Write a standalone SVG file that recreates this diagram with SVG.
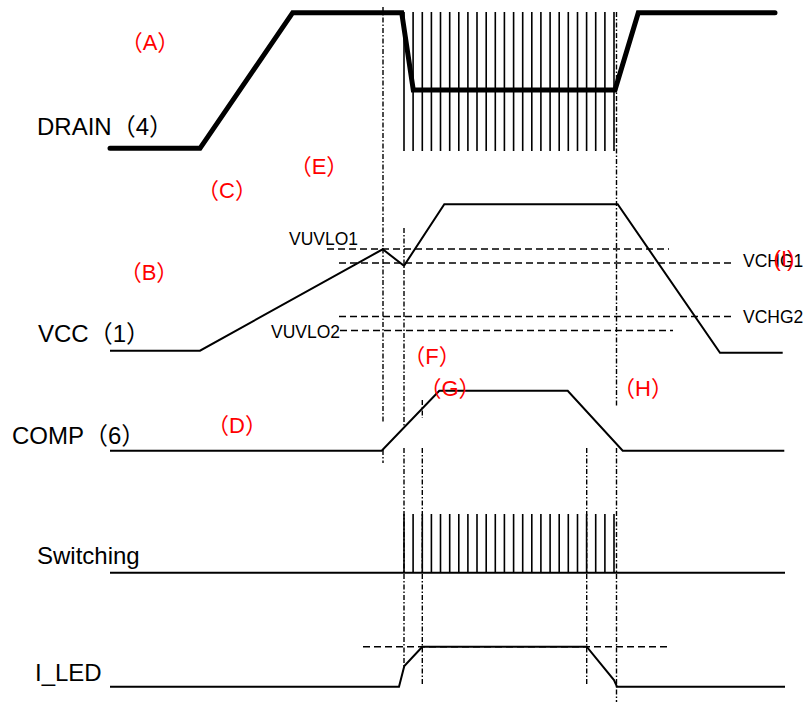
<svg xmlns="http://www.w3.org/2000/svg" width="803" height="704" viewBox="0 0 803 704">
<style>
.bg{fill:#fff}
.thick{fill:none;stroke:#000;stroke-width:5;stroke-linecap:round;stroke-linejoin:miter}
.wave{fill:none;stroke:#000;stroke-width:2}
.pulse{fill:none;stroke:#000;stroke-width:1.6}
.hd{fill:none;stroke:#000;stroke-width:1.6;stroke-dasharray:7 4}
.vd{fill:none;stroke:#000;stroke-width:1.4;stroke-dasharray:5 2 1.5 2}
.lbl{font-family:"Liberation Sans","Noto Sans CJK JP",sans-serif;font-size:24px;fill:#000}
.sm{font-family:"Liberation Sans","Noto Sans CJK JP",sans-serif;font-size:17.5px;fill:#000}
.red{font-family:"Liberation Sans","Noto Sans CJK JP",sans-serif;font-size:22px;fill:#ff0000;text-anchor:middle}
</style>
<rect class="bg" x="0" y="0" width="803" height="704"/>
<g id="connectors">
  <g id="vertical-guides">
    <path class="vd" d="M383 7V423M383 450V463"/>
    <path class="vd" d="M404 228V427M404 448V667"/>
    <path class="vd" d="M422.3 400V418M422.3 448V685"/>
    <path class="vd" d="M586.7 448V685"/>
    <path class="vd" d="M616.5 12V407M616.5 448V702"/>
  </g>
  <g id="horizontal-guides">
    <path class="hd" d="M327 249H669"/>
    <path class="hd" d="M339 263H733"/>
    <path class="hd" d="M339 316.5H733"/>
    <path class="hd" d="M340 330.5H673"/>
    <path class="hd" d="M363 646.7H670"/>
  </g>
</g>
<g id="drain">
  <path class="pulse" d="M404 12V151M413.1 12V151M422.3 12V151M431.4 12V151M440.5 12V151M449.7 12V151M458.8 12V151M467.9 12V151M477 12V151M486.2 12V151M495.3 12V151M504.4 12V151M513.6 12V151M522.7 12V151M531.8 12V151M540.9 12V151M550.1 12V151M559.2 12V151M568.3 12V151M577.5 12V151M586.6 12V151M595.7 12V151M604.9 12V151M614 12V151"/>
  <path class="thick" d="M110 148.3H200L292.7 12.7H401.7L413.3 90H615L638.3 12.7H775"/>
  <text class="lbl" x="37" y="135">DRAIN（4）</text>
</g>
<g id="vcc">
  <path class="wave" d="M110 350.7H200L382.7 249.3L404 265.7L444.3 204.3H617.7L720 352.7H782.7"/>
  <text class="lbl" x="38" y="342">VCC（1）</text>
  <text class="sm" x="289" y="245">VUVLO1</text>
  <text class="sm" x="271" y="338">VUVLO2</text>
  <text class="sm" x="743" y="266.7">VCHG1</text>
  <text class="sm" x="743" y="322.7">VCHG2</text>
</g>
<g id="comp">
  <path class="wave" d="M110 450.7H381.7L439.3 390.7H567.7L622.7 450.7H784.3"/>
  <text class="lbl" x="12" y="444">COMP（6）</text>
</g>
<g id="switching">
  <path class="pulse" d="M404 514V573M413.1 514V573M422.3 514V573M431.4 514V573M440.5 514V573M449.7 514V573M458.8 514V573M467.9 514V573M477 514V573M486.2 514V573M495.3 514V573M504.4 514V573M513.6 514V573M522.7 514V573M531.8 514V573M540.9 514V573M550.1 514V573M559.2 514V573M568.3 514V573M577.5 514V573M586.6 514V573M595.7 514V573M604.9 514V573M614 514V573"/>
  <path class="wave" d="M110 572.7H785"/>
  <text class="lbl" x="37" y="564">Switching</text>
</g>
<g id="iled">
  <path class="wave" d="M110 686.7H399L404.3 666L422.3 646.7H586.7L614 680L617 686.7H785"/>
  <text class="lbl" x="35" y="681">I_LED</text>
</g>
<g id="annotations">
  <text class="red" x="150" y="50">（A）</text>
  <text class="red" x="149" y="280">（B）</text>
  <text class="red" x="227" y="198">（C）</text>
  <text class="red" x="237" y="433">（D）</text>
  <text class="red" x="319" y="174">（E）</text>
  <text class="red" x="432" y="364">（F）</text>
  <text class="red" x="450" y="396">（G）</text>
  <text class="red" x="643" y="396">（H）</text>
  <text class="red" x="784" y="266" font-size="20">(I)</text>
</g>
</svg>
